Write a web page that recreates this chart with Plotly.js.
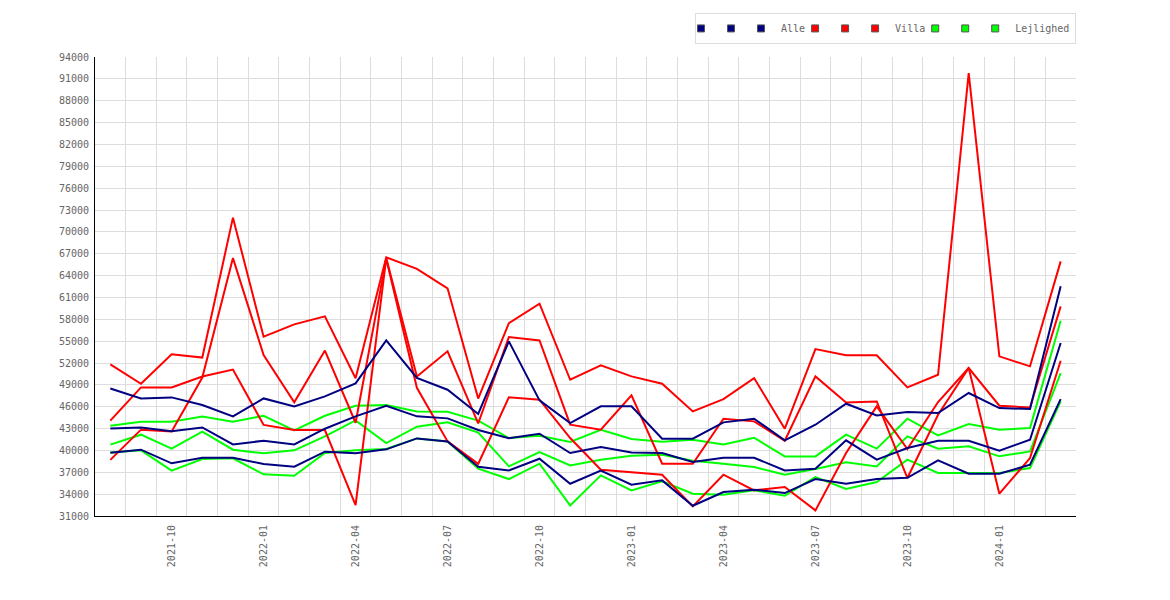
<!DOCTYPE html>
<html>
<head>
<meta charset="utf-8">
<script src="https://cdn.plot.ly/plotly-3.0.1.min.js"></script>
<style>
  html, body { margin: 0; padding: 0; background: #fff; }
  #chart { width: 1170px; height: 600px; }
</style>
</head>
<body>
<div id="chart"></div>
<script>
// months on the x axis
var months = ["2021-08", "2021-09", "2021-10", "2021-11", "2021-12", "2022-01", "2022-02", "2022-03",
  "2022-04", "2022-05", "2022-06", "2022-07", "2022-08", "2022-09", "2022-10", "2022-11",
  "2022-12", "2023-01", "2023-02", "2023-03", "2023-04", "2023-05", "2023-06", "2023-07",
  "2023-08", "2023-09", "2023-10", "2023-11", "2023-12", "2024-01", "2024-02", "2024-03"];

// Alle (navy)
var alle1 = [48500, 47140, 47280, 46230, 44670, 47140, 46050, 47420, 49200, 55100, 49950, 48330,
  45000, 54970, 46870, 43760, 46050, 46050, 41610, 41610, 43850, 44350, 41380, 43530,
  46410, 44810, 45270, 45130, 47880, 45820, 45680, 62520];
var alle2 = [43000, 43160, 42620, 43160, 40830, 41330, 40830, 42980, 44670, 46140, 44680, 44400,
  42800, 41680, 42300, 39640, 40470, 39730, 39640, 38410, 39000, 39000, 37260, 37490,
  41380, 38730, 40330, 41330, 41330, 39960, 41470, 54740];
var alle3 = [39690, 40100, 38230, 39000, 39000, 38130, 37770, 39830, 39600, 40150, 41650, 41240,
  37750, 37250, 38860, 35430, 37220, 35300, 35890, 32410, 34290, 34610, 34150, 36070,
  35430, 36070, 36250, 38630, 36800, 36800, 38040, 47050];

// Villa (red)
var villa1 = [51800, 49150, 53200, 52750, 71950, 55600, 57300, 58400, 49900, 66500, 64920, 62250,
  47120, 57480, 60140, 49700, 51670, 50160, 49160, 45360, 47050, 49930, 42980, 53910,
  53050, 53050, 48650, 50390, 91800, 52910, 51540, 65950];
var villa2 = [44100, 48650, 48650, 50150, 51100, 43500, 42800, 42800, 32500, 66400, 50160, 53600,
  43700, 55560, 55100, 43530, 42840, 47560, 38180, 38180, 44350, 43990, 41330, 50160,
  46590, 46730, 36210, 44900, 51310, 46140, 45900, 59770];
var villa3 = [38700, 42850, 42600, 50000, 66400, 53100, 46600, 53700, 43800, 66300, 48600, 41240,
  38150, 47300, 46960, 41700, 37350, 37030, 36670, 32320, 36670, 34520, 34980, 31770,
  39640, 46050, 40190, 46640, 51310, 34060, 38950, 52310];

// Lejlighed (green)
var lejl1 = [43390, 43940, 43940, 44670, 43940, 44760, 42750, 44760, 46140, 46230, 45360, 45300,
  44100, 41700, 42020, 41150, 42840, 41560, 41200, 41470, 40830, 41740, 39180, 39180,
  42160, 40240, 44350, 42070, 43620, 42850, 43070, 57800];
var lejl2 = [40790, 42160, 40240, 42570, 40100, 39600, 40010, 41930, 44120, 41010, 43260, 43850,
  42440, 37810, 39780, 37950, 38730, 39270, 39410, 38590, 38180, 37720, 36670, 37440,
  38360, 37810, 41930, 40240, 40560, 39190, 39870, 50620];
var lejl3 = [39700, 40010, 37220, 38820, 38910, 36720, 36530, 39640, 40010, 40190, 41650, 41240,
  37500, 36070, 38180, 32460, 36580, 34520, 35750, 34060, 33920, 34520, 33790, 36350,
  34700, 35660, 38730, 36900, 36900, 36900, 37580, 46730];

var legendNames = ["", "", "Alle", "", "", "Villa", "", "", "Lejlighed"];

var NAVY = "#000080", RED = "#ff0000", GREEN = "#00ff00";
var mono = "DejaVu Sans Mono, monospace";

var idx = months.map(function (m, i) { return i; });

function lineTrace(values, color) {
  return {
    x: idx, y: values, type: "scatter", mode: "lines",
    line: { color: color, width: 2 },
    showlegend: false, hoverinfo: "skip"
  };
}

// green first, blue last so navy sits on top where they overlap
var traces = [
  lineTrace(lejl1, GREEN), lineTrace(lejl2, GREEN), lineTrace(lejl3, GREEN),
  lineTrace(villa1, RED), lineTrace(villa2, RED), lineTrace(villa3, RED),
  lineTrace(alle1, NAVY), lineTrace(alle2, NAVY), lineTrace(alle3, NAVY)
];

// legend squares, three per group
var legendColors = [NAVY, NAVY, NAVY, RED, RED, RED, GREEN, GREEN, GREEN];
legendNames.forEach(function (name, i) {
  traces.push({
    x: [null], y: [null], type: "scatter", mode: "markers", name: name,
    marker: { symbol: "square", size: 7, color: legendColors[i], line: { color: "#555", width: 1 } },
    showlegend: true
  });
});

// ticks every third month
var tickIdx = idx.filter(function (i) { return /-(01|04|07|10)$/.test(months[i]); });

var layout = {
  width: 1170, height: 600,
  margin: { l: 95, r: 93.5, t: 57, b: 84, pad: 0 },
  paper_bgcolor: "#fff", plot_bgcolor: "#fff",
  font: { family: mono, size: 10, color: "#666" },
  showlegend: true,
  legend: {
    orientation: "h", x: 1, xanchor: "right", y: 1.096, yanchor: "top",
    bordercolor: "#dddddd", borderwidth: 1, bgcolor: "#fff",
    font: { family: mono, size: 10, color: "#666" },
    itemwidth: 30, indentation: -15
  },
  xaxis: {
    type: "linear", range: [-0.5, 31.5],
    tickmode: "array",
    tickvals: tickIdx,
    ticktext: tickIdx.map(function (i) { return months[i]; }),
    tickangle: -90, ticks: "", showgrid: false, zeroline: false,
    showline: true, linecolor: "#000", linewidth: 1,
    ticklabelstandoff: 4,
    minor: { tickmode: "linear", tick0: 0.5, dtick: 1, showgrid: true, gridcolor: "#dddddd", gridwidth: 1 },
    fixedrange: true
  },
  yaxis: {
    range: [31000, 94000], dtick: 3000, tick0: 31000,
    tickformat: "d", ticks: "",
    showgrid: true, gridcolor: "#dddddd", gridwidth: 1, zeroline: false,
    showline: true, linecolor: "#000", linewidth: 1,
    ticklabelstandoff: 3,
    fixedrange: true
  }
};

Plotly.newPlot("chart", traces, layout, { displayModeBar: false, staticPlot: true });
</script>
</body>
</html>
